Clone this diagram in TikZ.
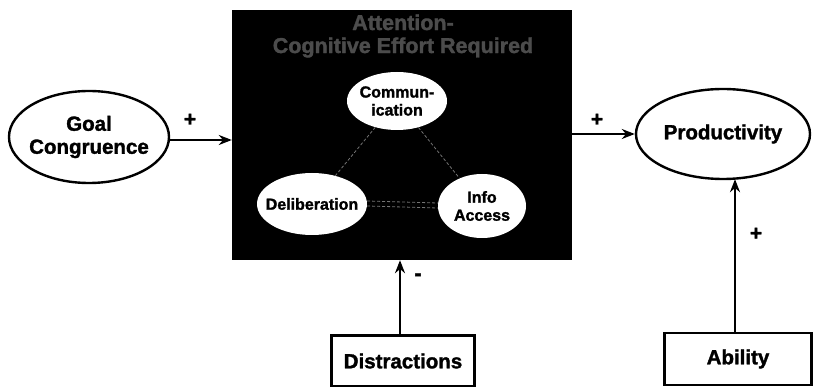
\documentclass[tikz,border=0pt]{standalone}
\usepackage{fontspec}
\setmainfont{Liberation Sans}[BoldFeatures={FakeBold=1.6}]
\usetikzlibrary{shapes.geometric,arrows.meta}
\begin{document}
\begin{tikzpicture}[x=1pt,y=-1pt,
  big/.style={font=\fontsize{20.5}{23}\selectfont\bfseries,align=center,inner sep=0pt},
  small/.style={font=\fontsize{16}{18}\selectfont\bfseries,align=center,inner sep=0pt},
  outell/.style={draw=black,line width=2.4pt,ellipse,inner sep=0pt},
  inell/.style={fill=white,ellipse,inner sep=0pt},
  factor/.style={draw=black,line width=2.2pt,rectangle,inner sep=0pt,font=\fontsize{20.5}{23}\selectfont\bfseries},
  arr/.style={line width=2.2pt,-{Stealth[length=13pt,width=10pt]}},
  link/.style={draw=white!45!black,line width=0.8pt,dash pattern=on 3pt off 2pt},
  sign/.style={font=\fontsize{21}{21}\selectfont\bfseries}
]
\useasboundingbox (0,0) rectangle (813,387);
% black central box
\node[fill=black,minimum width=340pt,minimum height=250pt,inner sep=0pt] (box) at (402,135) {};
\node[font=\fontsize{21.5}{23}\selectfont\bfseries,text=white!30!black,align=center] (title) at (403,36)
  {Attention-\\Cognitive Effort Required};
% inner ellipses
\node[inell,minimum width=100pt,minimum height=58pt] (comm) at (397,101) {};
\node[small] (commt) at (comm) {Commun-\\ication};
\node[inell,minimum width=110pt,minimum height=62pt] (delib) at (312,204) {};
\node[small] (delibt) at (delib) {Deliberation};
\node[inell,minimum width=88pt,minimum height=64pt] (info) at (482,206) {};
\node[small] (infot) at (info) {Info\\Access};
\draw[link] (comm) -- (delib);
\draw[link] (comm) -- (info);
\draw[link] ([yshift=-2pt]delib.east) -- ([yshift=-2pt]info.west);
\draw[link] ([yshift=3pt]delib.east) -- ([yshift=3pt]info.west);
% outer nodes
\node[outell,minimum width=160pt,minimum height=92pt] (goal) at (89,137) {};
\node[big] (goalt) at (goal) {Goal\\Congruence};
\node[outell,minimum width=174pt,minimum height=90pt] (prod) at (723,134) {};
\node[big] (prodt) at (prod) {Productivity};
\node[factor,minimum width=143pt,minimum height=51pt] (dist) at (403,361) {Distractions};
\node[factor,minimum width=147pt,minimum height=52pt] (abil) at (738,359) {Ability};
% connectors
\draw[arr] ([yshift=-3pt]goal.east) -- ([yshift=-3pt]goal.east -| box.west);
\draw[arr] (prod.west -| box.east) -- (prod.west);
\draw[arr] ([xshift=-3pt]dist.north) -- ([xshift=-3pt]dist.north |- box.south);
\draw[arr] ([xshift=-3pt]abil.north) -- ([xshift=-3pt,yshift=1pt]abil.north |- prod.south);
% signs
\node[sign] (p1) at (190,120) {+};
\node[sign] (p2) at (597,120) {+};
\node[sign] (p3) at (756,234) {+};
\node[sign] (m1) at (418,277) {-};
\end{tikzpicture}
\end{document}
